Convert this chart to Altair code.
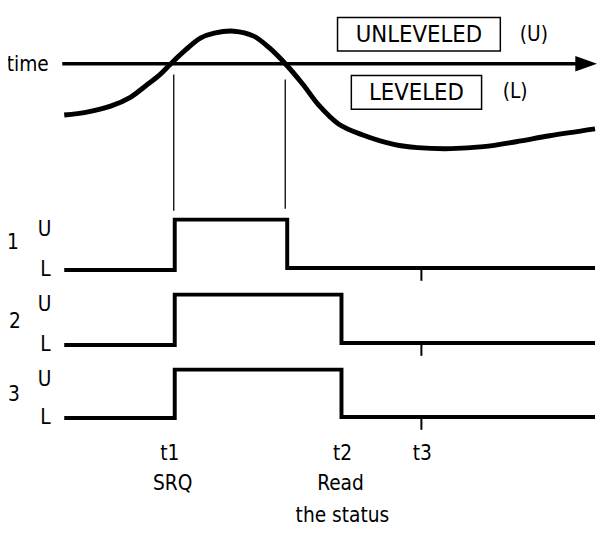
import altair as alt
import pandas as pd

# ---- canvas coordinate system (reference pixel units) ----
W, H = 598, 519
X0, Y0 = 8, 8
FONT = "DejaVu Sans Condensed"

# ---- level curve (time vs level) ----
curve_t = [65, 88, 112, 132, 148, 162, 172, 188, 203, 217, 237, 257, 273, 290,
           307, 323, 343, 367, 400, 423, 457, 490, 523, 557, 603]
curve_v = [113, 110, 104, 95, 83, 72, 62, 47, 35, 30, 28, 33, 45, 62,
           82, 103, 122, 133, 143, 146, 147, 145, 140, 134, 127]

# ---- time axis ----
axis_start, axis_end, axis_level = 63, 585, 61
arrow_pos = 594

# ---- status signals ----
sig_names = ["1", "2", "3"]
sig_low = [270, 346, 420]
sig_low_after = [268, 344, 419]
sig_high = [219, 295, 371]
sig_rise = [177, 177, 177]
sig_fall = [291, 346, 346]
sig_start, sig_end = 65, 603
t3_time = 427
tick_len = 13

# ---- crossing markers ----
cross_t = [176, 289]
cross_top = [72, 77]
cross_bottom = [210, 208]

# ---- legend boxes ----
box_text = ["UNLEVELED", "LEVELED"]
box_x1 = [342, 356]
box_x2 = [507, 488]
box_y1 = [14, 73]
box_y2 = [48, 107]

xs = alt.Scale(domain=[X0, X0 + W])
ys = alt.Scale(domain=[Y0, Y0 + H], reverse=True)


def X(f):
    return alt.X(f, scale=xs, axis=None)


def Y(f):
    return alt.Y(f, scale=ys, axis=None)


axis_df = pd.DataFrame({"x": [axis_start], "x2": [axis_end], "y": [axis_level]})
axis_line = alt.Chart(axis_df).mark_rule(color="black", strokeWidth=3.5).encode(
    x=X("x:Q"), x2="x2:Q", y=Y("y:Q"))

arrow_df = pd.DataFrame({"x": [arrow_pos], "y": [axis_level]})
arrow = alt.Chart(arrow_df).mark_point(
    shape="M-1,-0.72L1,0L-1,0.72Z", filled=True, size=484, color="black",
    opacity=1, strokeWidth=0).encode(x=X("x:Q"), y=Y("y:Q"))

curve_df = pd.DataFrame({"x": curve_t, "y": curve_v, "i": range(len(curve_t))})
curve = alt.Chart(curve_df).mark_line(
    interpolate="catmull-rom", color="black", strokeWidth=5).encode(
    x=X("x:Q"), y=Y("y:Q"), order="i:Q")

box_df = pd.DataFrame({"x": box_x1, "x2": box_x2, "y": box_y1, "y2": box_y2,
                       "t": box_text})
boxes = alt.Chart(box_df).mark_rect(fill="white", stroke="black", strokeWidth=1.5).encode(
    x=X("x:Q"), x2="x2:Q", y=Y("y:Q"), y2="y2:Q")
box_df["cx"] = [(a + b) / 2 for a, b in zip(box_x1, box_x2)]
box_df["cy"] = [(a + b) / 2 + 1 for a, b in zip(box_y1, box_y2)]
box_labels = alt.Chart(box_df).mark_text(
    font=FONT, fontSize=24, baseline="middle", align="center", color="black").encode(
    x=X("cx:Q"), y=Y("cy:Q"), text="t:N")

vl_df = pd.DataFrame({"x": cross_t, "y": cross_top, "y2": cross_bottom})
vlines = alt.Chart(vl_df).mark_rule(color="black", strokeWidth=1.3).encode(
    x=X("x:Q"), y=Y("y:Q"), y2="y2:Q")

rows = []
for n, lo, lo2, hi, r, f in zip(sig_names, sig_low, sig_low_after, sig_high, sig_rise, sig_fall):
    pts = [(sig_start, lo), (r, lo), (r, hi), (f, hi), (f, lo2), (sig_end, lo2)]
    for i, (x, y) in enumerate(pts):
        rows.append({"sig": n, "i": i, "x": x, "y": y})
sig_df = pd.DataFrame(rows)
signals = alt.Chart(sig_df).mark_line(
    color="black", strokeWidth=4, strokeJoin="miter").encode(
    x=X("x:Q"), y=Y("y:Q"), detail="sig:N", order="i:Q")

tick_df = pd.DataFrame({"x": [t3_time] * 3, "y": sig_low_after,
                        "y2": [v + tick_len for v in sig_low_after]})
ticks = alt.Chart(tick_df).mark_rule(color="black", strokeWidth=2).encode(
    x=X("x:Q"), y=Y("y:Q"), y2="y2:Q")

# ---- text labels ----
lab_text = ["time", "(U)", "(L)",
            "1", "U", "L", "2", "U", "L", "3", "U", "L",
            "t1", "SRQ", "t2", "Read", "the status", "t3"]
lab_x = [28, 541, 522,
         13, 45, 46, 15, 45, 46, 14, 45, 46,
         172, 175, 347, 345, 347, 428]
lab_y = [62, 32, 90,
         243, 230, 270, 323, 306, 346, 397, 382, 420,
         457, 487, 457, 487, 519, 457]
lab_df = pd.DataFrame({"x": lab_x, "y": lab_y, "t": lab_text})
labels = alt.Chart(lab_df).mark_text(
    font=FONT, fontSize=21, baseline="middle", align="center", color="black").encode(
    x=X("x:Q"), y=Y("y:Q"), text="t:N")

chart = alt.layer(
    vlines, axis_line, arrow, curve, boxes, box_labels, signals, ticks, labels
).properties(
    width=W, height=H, autosize=alt.AutoSizeParams(type="none"), padding=0,
    background="white"
).configure_view(stroke=None)

chart.save("out.html", embed_options={"renderer": "svg", "actions": False})
